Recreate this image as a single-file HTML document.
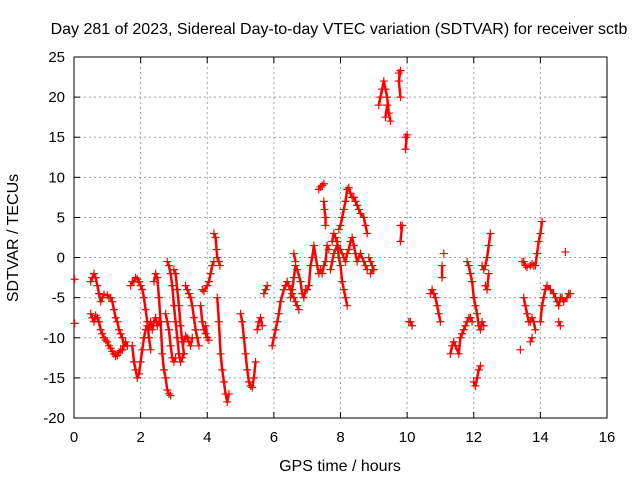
<!DOCTYPE html>
<html><head><meta charset="utf-8"><style>
body{margin:0;background:#fff;}
svg text{font-family:"Liberation Sans",sans-serif;font-size:15px;fill:#000;}
</style></head><body>
<svg id="chart" width="640" height="480" xmlns="http://www.w3.org/2000/svg">
<rect width="640" height="480" fill="#fff"/>
<text x="339" y="34" text-anchor="middle" style="font-size:16px">Day 281 of 2023, Sidereal Day-to-day VTEC variation (SDTVAR) for receiver sctb</text>
<text x="340" y="471" text-anchor="middle" style="font-size:16px">GPS time / hours</text>
<text transform="translate(18,238) rotate(-90)" text-anchor="middle" style="font-size:16px">SDTVAR / TECUs</text>
<g id="grid"></g><g id="axes"></g><g id="marks"></g>
</svg>
<script>
const xTicks=[0,2,4,6,8,10,12,14,16];
const yTicks=[-20,-15,-10,-5,0,5,10,15,20,25];
const tracks=[
[[0.02,-2.7]],[[0.02,-8.2]],
[[0.5,-7],[0.55,-7.5],[0.6,-8],[0.65,-7.2],[0.7,-7.5],[0.75,-8],[0.8,-9],[0.85,-9.5],[0.9,-10],[0.95,-10.3],[1.0,-10.5],[1.05,-11],[1.1,-11.3],[1.15,-11.7],[1.2,-12],[1.25,-12.3],[1.3,-12.2],[1.35,-11.8],[1.4,-11.6],[1.45,-11.5],[1.5,-11],[1.55,-10.5],[1.6,-11]],
[[0.5,-3],[0.55,-2.5],[0.6,-2],[0.65,-2.5],[0.7,-3.5],[0.75,-4.5],[0.8,-5.5],[0.85,-5],[0.9,-4.6],[1.0,-4.7],[1.05,-5],[1.1,-5],[1.15,-5.5],[1.2,-6.5],[1.25,-7.5],[1.3,-8],[1.35,-9],[1.4,-9.5],[1.45,-10],[1.5,-11],[1.6,-11]],
[[1.75,-11],[1.8,-13],[1.85,-14],[1.9,-15],[1.95,-14.5],[2.0,-13],[2.05,-11.5],[2.1,-10],[2.15,-9],[2.2,-8.5],[2.25,-9],[2.3,-8],[2.35,-9],[2.4,-8],[2.45,-7.5],[2.5,-8.5],[2.55,-8]],
[[1.7,-3.5],[1.75,-3],[1.8,-3],[1.85,-2.5],[1.9,-2.7],[1.95,-3],[2.0,-3.5],[2.05,-4],[2.1,-5],[2.15,-6.5],[2.2,-8],[2.25,-10],[2.3,-11.5]],
[[2.4,-3],[2.45,-2],[2.5,-2.5],[2.55,-5],[2.6,-8],[2.65,-12],[2.7,-14],[2.75,-15],[2.8,-16.5],[2.85,-17],[2.9,-17.2]],
[[2.8,-0.5],[2.85,-1],[2.9,-2],[2.95,-3.5],[3.0,-6],[3.05,-8],[3.1,-10],[3.15,-12],[3.2,-13],[3.25,-12.5],[3.3,-12]],
[[2.75,-7],[2.8,-8],[2.85,-9],[2.9,-11],[2.95,-12.5],[3.0,-13],[3.05,-12.5]],
[[3.0,-1.5],[3.05,-2],[3.1,-4],[3.15,-6],[3.2,-8.5],[3.25,-10.5],[3.3,-12]],
[[3.35,-3.5],[3.4,-4],[3.45,-4.5],[3.5,-5],[3.55,-6],[3.6,-7.5],[3.65,-9],[3.7,-10],[3.75,-11]],
[[3.3,-10.5],[3.35,-9.8],[3.4,-10],[3.45,-10.5],[3.5,-11],[3.55,-10]],
[[3.8,-6],[3.85,-8],[3.9,-9],[3.95,-9.5]],
[[3.85,-4],[3.9,-4.2],[4.0,-3.5],[4.05,-3],[4.1,-2],[4.15,-1],[4.2,-0.5]],
[[3.95,-8.5],[4.0,-10],[4.05,-10.3]],
[[4.2,3],[4.25,2.5],[4.28,1],[4.3,0],[4.35,-0.5],[4.38,-1]],
[[4.3,-5],[4.35,-8],[4.4,-12],[4.45,-14],[4.5,-15.5],[4.55,-17],[4.6,-18],[4.65,-17]],
[[5.0,-7],[5.05,-8],[5.1,-10],[5.15,-12],[5.2,-14],[5.25,-15.5],[5.3,-16],[5.35,-16.2],[5.4,-15],[5.45,-13]],
[[5.5,-9],[5.55,-8],[5.6,-7.5],[5.65,-8.5]],
[[5.7,-4.5],[5.75,-4],[5.8,-3.5]],
[[5.95,-11],[6.0,-10],[6.05,-9],[6.1,-8],[6.15,-7],[6.2,-5.5],[6.3,-4],[6.35,-3.5],[6.4,-3],[6.45,-3.5],[6.5,-4],[6.55,-4.5],[6.6,-5],[6.65,-5.5],[6.7,-6],[6.75,-6.5]],
[[6.5,-5],[6.55,-4],[6.6,-2.5],[6.65,-1],[6.7,-1.5],[6.8,-3],[6.85,-4.5],[6.9,-5],[6.95,-4]],
[[6.6,0.5],[6.65,-0.5]],
[[7.0,-4],[7.05,-3.5],[7.1,-1],[7.15,0],[7.2,1.5],[7.3,-1],[7.35,-2],[7.4,-1.5],[7.45,-2],[7.5,-1],[7.55,-0.5],[7.6,1.5],[7.65,1]],
[[7.35,8.5],[7.4,8.8],[7.45,9],[7.5,9.2]],
[[7.5,7],[7.52,6],[7.55,5],[7.55,4]],
[[7.75,2],[7.8,3],[7.85,2.5],[7.9,2],[7.95,0],[8.0,-1],[8.05,-3],[8.1,-4],[8.15,-5],[8.2,-6]],
[[7.95,3.5],[8.0,4],[8.05,5],[8.1,6],[8.15,7],[8.2,8.5],[8.25,8.7],[8.3,8],[8.35,7.5],[8.4,7.5],[8.45,7],[8.5,6.5],[8.55,6],[8.6,5.5],[8.7,5],[8.75,4],[8.8,3]],
[[7.7,-1.5],[7.75,-0.5],[7.8,0.5],[7.9,1.5],[8.0,1],[8.1,0],[8.15,-0.5],[8.2,0.5],[8.25,1],[8.3,2],[8.35,2.5],[8.4,1.5],[8.45,0.5],[8.5,-0.5],[8.55,0],[8.6,0.5],[8.7,-0.5],[8.75,-1],[8.8,-1.5]],
[[8.85,0],[8.9,-0.5],[8.95,-1],[9.0,-1.5],[8.9,-2]],
[[9.15,19],[9.2,20],[9.25,21],[9.3,22],[9.35,21],[9.4,20],[9.45,18],[9.5,17]],
[[9.35,17.5],[9.4,19]],
[[9.75,23],[9.8,23.3],[9.75,22],[9.8,20]],
[[9.95,15],[10.0,15.3],[9.95,13.5]],
[[9.8,4],[9.85,4],[9.8,2]],
[[10.05,-8],[10.1,-8],[10.15,-8.5]],
[[10.7,-4.5],[10.75,-4],[10.8,-4.5],[10.85,-5],[10.9,-6],[10.95,-7],[11.0,-8]],
[[11.1,0.5]],[[11.05,-1],[11.05,-2.5]],
[[11.3,-12],[11.35,-11],[11.4,-10.5],[11.45,-11],[11.55,-12],[11.6,-10],[11.65,-9.5],[11.7,-9],[11.75,-8.5],[11.8,-8],[11.85,-7.5],[11.9,-7.5],[11.95,-8]],
[[11.8,-0.5],[11.85,-1],[11.9,-2],[11.95,-3],[12.0,-5],[12.05,-6],[12.1,-7],[12.15,-8.5],[12.2,-9],[12.25,-8],[12.3,-8.5]],
[[12.0,-15.5],[12.05,-16],[12.1,-15],[12.15,-14],[12.2,-13.5]],
[[12.25,-1],[12.3,-1.5],[12.35,-1],[12.4,0],[12.45,1.5],[12.5,3]],
[[12.35,-3.5],[12.4,-4],[12.45,-2]],
[[13.4,-11.5]],
[[13.45,-0.5],[13.5,-0.5],[13.55,-1],[13.6,-1.2],[13.7,-1],[13.75,-0.8],[13.8,-1]],
[[13.5,-5],[13.55,-6],[13.6,-7],[13.65,-8],[13.7,-8],[13.75,-7.5],[13.8,-8],[13.85,-9]],
[[13.7,-10.5],[13.75,-10]],
[[13.85,-1],[13.9,0.5],[13.95,2],[14.0,3],[14.05,4.5]],
[[14.0,-8],[14.05,-6],[14.1,-5],[14.15,-4],[14.2,-3.5],[14.3,-4],[14.4,-4.5],[14.45,-5],[14.5,-5.5],[14.55,-6],[14.6,-5],[14.65,-5],[14.7,-5.5],[14.8,-5],[14.85,-4.5],[14.9,-4.5]],
[[14.55,-8],[14.6,-8.5]],[[14.75,0.7]]
];
const NS="http://www.w3.org/2000/svg";
const L=74,R=607,T=57,B=418;
const xs=t=>L+(t-0)/(16-0)*(R-L);
const ys=v=>B-(v+20)/(45)*(B-T);
function mk(tag,attrs,parent){const e=document.createElementNS(NS,tag);for(const k in attrs)e.setAttribute(k,attrs[k]);parent.appendChild(e);return e;}
const grid=document.getElementById('grid'),axes=document.getElementById('axes'),marks=document.getElementById('marks');
xTicks.forEach(t=>{const x=xs(t);
 if(t>0&&t<16){const g=mk('line',{x1:x,x2:x,y1:T,y2:B,stroke:'#a0a0a0','stroke-dasharray':'2,3'},grid);
 
 }
 mk('line',{x1:x,x2:x,y1:B,y2:B-6,stroke:'#000'},axes);mk('line',{x1:x,x2:x,y1:T,y2:T+6,stroke:'#000'},axes);
 const tx=mk('text',{x:x,y:B+24,'text-anchor':'middle'},axes);tx.textContent=t;
 
 });
yTicks.forEach(v=>{const y=ys(v);
 if(v>-20&&v<25){const g=mk('line',{x1:L,x2:R,y1:y,y2:y,stroke:'#a0a0a0','stroke-dasharray':'2,3'},grid);
 
 }
 mk('line',{x1:L,x2:L+6,y1:y,y2:y,stroke:'#000'},axes);mk('line',{x1:R,x2:R-6,y1:y,y2:y,stroke:'#000'},axes);
 const tx=mk('text',{x:L-9,y:y+5,'text-anchor':'end'},axes);tx.textContent=v;
 
 });
const frame=mk('rect',{x:L,y:T,width:R-L,height:B-T,fill:'none',stroke:'#000'},axes);


tracks.forEach(tr=>{
 if(tr.length>1){const pl=mk('polyline',{points:tr.map(p=>xs(p[0])+','+ys(p[1])).join(' '),fill:'none',stroke:'#f00','stroke-width':2.5,'stroke-linejoin':'round'},marks);
 
 }
 tr.forEach(p=>{const x=xs(p[0]),y=ys(p[1]);
  const m=mk('path',{d:`M${x-4},${y}h8M${x},${y-4}v8`,stroke:'#f00','stroke-width':1.2},marks);
  
  });
});
</script>
</body></html>
